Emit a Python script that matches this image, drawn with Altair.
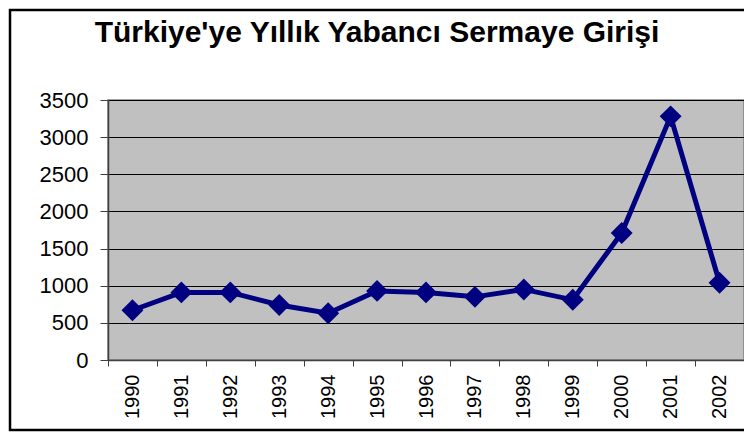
import altair as alt
import pandas as pd

years = ["1990", "1991", "1992", "1993", "1994", "1995", "1996",
         "1997", "1998", "1999", "2000", "2001", "2002"]
values = [670, 910, 910, 740, 630, 930, 910, 850, 950, 810, 1710, 3280, 1040]
y_ticks = [0, 500, 1000, 1500, 2000, 2500, 3000, 3500]
title_text = "Türkiye'ye Yıllık Yabancı Sermaye Girişi"

df = pd.DataFrame({"year": years, "value": values})

FONT = "Liberation Sans"
NAVY = "#000080"

x_enc = alt.X(
    "year:O",
    sort=years,
    scale=alt.Scale(paddingInner=0, paddingOuter=0),
    axis=alt.Axis(
        title=None, labelAngle=-90, labelAlign="right", labelBaseline="middle",
        labelFont=FONT, labelFontSize=20, labelColor="black", labelPadding=8,
        tickBand="extent", tickSize=6, tickColor="#404040", domainColor="#404040",
        domainWidth=1.5, grid=False,
    ),
)
y_enc = alt.Y(
    "value:Q",
    scale=alt.Scale(domain=[0, 3500], nice=False),
    axis=alt.Axis(
        title=None, values=y_ticks, format="d", labelFont=FONT, labelFontSize=22,
        labelColor="black", labelPadding=12, tickSize=8, tickColor="#404040",
        domainColor="#404040", domainWidth=1.5,
        grid=True, gridColor="black", gridWidth=1,
    ),
)

border = alt.Chart(alt.Data(values=[{}])).mark_rect(
    fillOpacity=0, stroke="black", strokeWidth=2.5
).encode(
    x=alt.value(-98), x2=alt.value(700), y=alt.value(-90), y2=alt.value(330)
)

line = alt.Chart(df).mark_line(color=NAVY, strokeWidth=5).encode(x=x_enc, y=y_enc)
points = alt.Chart(df).mark_point(
    shape="diamond", filled=True, color=NAVY, opacity=1, size=480
).encode(x=x_enc, y=y_enc)

chart = alt.layer(border, line, points).properties(
    width=636,
    height=260,
    autosize=alt.AutoSizeParams(type="none"),
    padding={"left": 100, "top": 92, "right": 0, "bottom": 73},
    title=alt.TitleParams(
        title_text, font=FONT, fontSize=30, fontWeight="bold", color="black",
        anchor="middle", dx=-49, offset=-39,
    ),
).configure(
    background="white",
    view=alt.ViewConfig(fill="#C0C0C0", stroke="#808080", strokeWidth=1.5),
)

chart.save("out.html", embed_options={"renderer": "svg", "actions": False})
